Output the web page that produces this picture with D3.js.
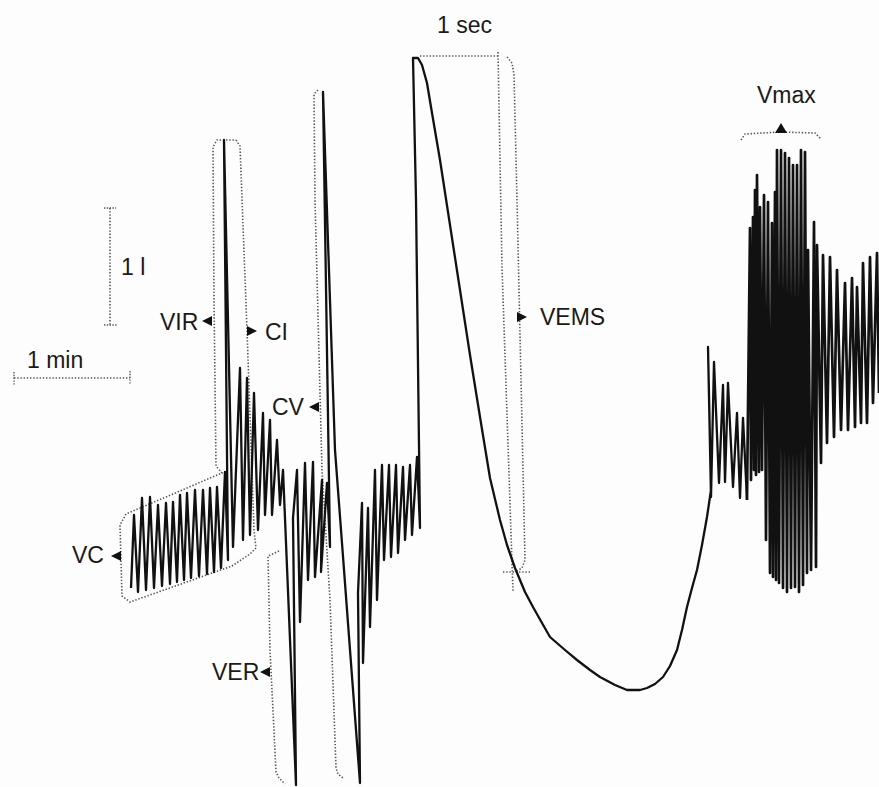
<!DOCTYPE html>
<html>
<head>
<meta charset="utf-8">
<script src="https://cdn.jsdelivr.net/npm/d3@7"></script>
<style>
  html, body { margin: 0; padding: 0; background: #fff; }
  svg { display: block; }
  text { font-family: "Liberation Sans", Arial, sans-serif; fill: #1a1a1a; }
</style>
</head>
<body>
<div id="chart"></div>
<script>
// Spirogram trace (time units across, volume units down the sheet)
const restBreaths = [[131,588],[134,515],[138,592],[142,498],[146,590],[150,497],[154,588],[158,505],[162,586],[166,503],[170,584],[173,502],[177,582],[180,495],[184,580],[187,493],[191,578],[195,490],[199,576],[203,490],[207,574],[210,488],[214,572],[217,487],[221,568],[225,472],[228,560]];
const inspReserve = [[224,140],[233,547]];
const capacityBreaths = [[240,368],[243,540],[247,378],[250,535],[254,393],[258,530],[263,413],[265,515],[270,420],[272,515],[277,440],[280,505],[283,470]];
const expReserve = [[296,785],[293,518]];
const midBreaths = [[297,470],[300,622],[305,463],[308,580],[313,462],[315,577],[322,480],[321,572],[327,483],[330,547]];
const vitalCapacity = [[323,92],[335,450],[360,783],[358,593],[362,503]];
const recoveryBreaths = [[363,663],[368,508],[370,627],[375,470],[377,600],[382,465],[384,560],[389,465],[391,557],[396,465],[398,553],[403,467],[405,540],[410,465],[412,535],[417,457],[420,528]];
const forcedExp = [[416,200],[413,58],[418,58],[422,65],[427,83],[432,113],[440,160],[450,225],[460,290],[470,355],[480,417],[490,478],[500,520],[507,545],[515,568],[525,592],[533,607],[542,623],[550,637],[565,650],[577,660],[590,670],[600,677],[615,685],[627,690],[640,690],[647,688],[655,684],[663,677],[670,666],[677,650],[682,630],[687,607],[692,588],[697,570],[702,545],[707,517],[711,490]];
const warmupBreaths = [[708,347],[711,497],[714,362],[719,483],[723,385],[725,482],[728,383],[733,487],[737,413],[740,498],[743,418],[747,500]];
const mvvBreaths = [[750,228],[751,480],[753,217],[754,470],[755,190],[756,475],[757,175],[759,472],[760,207],[762,470],[764,195],[766,540],[768,202],[770,573],[772,223],[773,577],[775,192],[776,580],[777,150],[779,583],[781,150],[783,588],[785,153],[787,592],[789,158],[791,588],[793,165],[795,587],[797,165],[799,592],[801,150],[803,585],[805,152],[807,573],[808,250],[811,570],[814,222],[816,567]];
const tailBreaths = [[817,245],[821,463],[823,255],[827,443],[830,257],[834,437],[837,270],[841,430],[845,283],[848,430],[852,278],[855,427],[857,287],[861,423],[863,263],[867,423],[870,257],[873,403],[877,253],[879,393]];

// dotted guides drawn on the sheet
const guideVolume = [[110,208],[110,325]];
const guideMinute = [[14,378],[130,378]];
const guideRest = [[236,140],[240,146],[247,330],[254,530],[256,548],[250,554],[232,566],[130,602],[122,596],[120,525],[126,514],[222,473],[216,466],[214,300],[213,147],[217,140],[236,140]];
const guideVER = [[279,551],[268,556],[270,650],[276,772],[279,778],[285,784]];
const guideCV = [[318,90],[314,94],[315,200],[322,470],[330,600],[336,768],[338,774],[343,778]];
const guideSecTop = [[420,56],[498,56]];
const guideSecLeft = [[498,52],[502,267],[513,592]];
const guideSecRight = [[507,57],[512,63],[514,75],[517,200],[525,560],[522,568],[515,572]];
const guideSecTick = [[503,572],[531,572]];
const guideVmax = [[741,140],[745,134],[780,132],[815,133],[821,139]];

const labels = ["VIR", "CI", "CV", "VC", "VER", "VEMS", "Vmax", "1 l", "1 min", "1 sec"];

const W = 879, H = 787;
const svg = d3.select("#chart").append("svg").attr("width", W).attr("height", H);
svg.append("rect").attr("width", W).attr("height", H).attr("fill", "#fdfdfd");

const x = d3.scaleLinear().domain([0, 879]).range([0, W]);
const y = d3.scaleLinear().domain([0, 787]).range([0, H]);
const line = d3.line().x(d => x(d[0])).y(d => y(d[1]));

// dotted guides
const guides = [guideVolume, guideMinute, guideRest, guideVER, guideCV, guideSecTop, guideSecLeft, guideSecRight, guideSecTick, guideVmax];
svg.append("g").selectAll("path").data(guides).enter().append("path")
    .attr("d", line)
    .attr("fill", "none")
    .attr("stroke", "#555")
    .attr("stroke-width", 1.6)
    .attr("stroke-dasharray", "1.4,1.8");
// end ticks of the scale bars
const ticks = [[[104,208],[116,208]], [[104,325],[117,325]], [[14,372],[14,386]], [[130,371],[130,385]]];
svg.append("g").selectAll("path").data(ticks).enter().append("path")
    .attr("d", line).attr("stroke", "#555").attr("stroke-width", 1.4).attr("stroke-dasharray", "1.4,1.4");

// the trace
const trace = [].concat(restBreaths, inspReserve, capacityBreaths, expReserve, midBreaths,
    vitalCapacity, recoveryBreaths, forcedExp, warmupBreaths);
svg.append("path")
    .datum(trace)
    .attr("d", line)
    .attr("fill", "none")
    .attr("stroke", "#111")
    .attr("stroke-width", 2.3)
    .attr("stroke-linejoin", "round");
// ventilation part is written denser on the drum
svg.append("path")
    .datum([].concat(warmupBreaths.slice(-1), mvvBreaths, tailBreaths))
    .attr("d", line)
    .attr("fill", "none")
    .attr("stroke", "#111")
    .attr("stroke-width", 2.7)
    .attr("stroke-linejoin", "round");

// markers: [x, y, direction]
const markers = [[207,321,"l"],[252,331,"r"],[314,407,"l"],[116,556,"l"],[265,672,"l"],[522,317,"r"],[781,128,"u"]];
function tri(m) {
    const cx = x(m[0]), cy = y(m[1]), s = 5;
    if (m[2] === "l") return `M${cx - s},${cy}L${cx + s},${cy - s}L${cx + s},${cy + s}Z`;
    if (m[2] === "r") return `M${cx + s},${cy}L${cx - s},${cy - s}L${cx - s},${cy + s}Z`;
    return `M${cx},${cy - s}L${cx - s - 1},${cy + s}L${cx + s + 1},${cy + s}Z`;
}
svg.append("g").selectAll("path").data(markers).enter().append("path")
    .attr("d", tri).attr("fill", "#111");

// labels
const labelPos = [[160,330],[265,340],[272,415],[72,563],[212,680],[540,325],[757,103],[121,275],[27,368],[437,33]];
svg.append("g").selectAll("text").data(labels).enter().append("text")
    .attr("x", (d, i) => x(labelPos[i][0]))
    .attr("y", (d, i) => y(labelPos[i][1]))
    .style("font-size", "23px")
    .text(d => d);
</script>
</body>
</html>
